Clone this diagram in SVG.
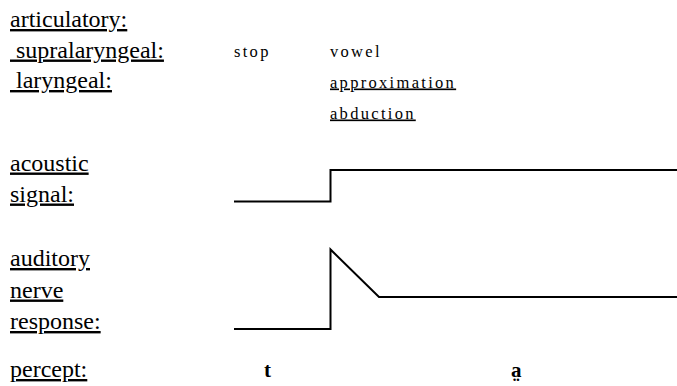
<svg xmlns="http://www.w3.org/2000/svg" width="677" height="386" viewBox="0 0 677 386">
  <style>
    text { font-family: 'Liberation Serif', 'DejaVu Serif', Times, serif; fill: #000; white-space: pre; }
    .lbl { font-size: 24px; text-decoration: underline; }
    .val { font-size: 16.5px; letter-spacing: 2.3px; }
    .u { text-decoration: underline; }
    .seg { font-size: 21px; font-weight: bold; }
    .trace { fill: none; stroke: #000; stroke-width: 2; stroke-linejoin: miter; }
  </style>
  <rect width="677" height="386" fill="#fff"/>

  <!-- articulatory gestures -->
  <g id="articulatory" font-family="Liberation Serif, serif">
    <text class="lbl" x="10" y="27">articulatory:</text>
    <text class="lbl" x="10" y="57.5"> supralaryngeal:</text>
    <text class="lbl" x="10" y="88"> laryngeal:</text>
    <text class="val" x="234" y="57">stop</text>
    <text class="val" x="330" y="57">vowel</text>
    <text class="val u" x="330" y="87.5">approximation</text>
    <text class="val u" x="330" y="118.5">abduction</text>
  </g>

  <!-- acoustic signal -->
  <g id="acoustic" font-family="Liberation Serif, serif">
    <text class="lbl" x="10" y="170.5">acoustic</text>
    <text class="lbl" x="10" y="201.5">signal:</text>
  </g>

  <!-- auditory nerve response -->
  <g id="auditory" font-family="Liberation Serif, serif">
    <text class="lbl" x="10" y="266">auditory</text>
    <text class="lbl" x="10" y="297.5">nerve</text>
    <text class="lbl" x="10" y="329">response:</text>
  </g>

  <!-- percept -->
  <g id="percept" font-family="Liberation Serif, serif">
    <text class="lbl" x="10" y="377">percept:</text>
    <text class="seg" x="264" y="377">t</text>
    <text class="seg" x="511" y="377">a&#x324;</text>
  </g>

  <!-- traces -->
  <g id="traces">
    <path class="trace" d="M234 201.5 H330.5 V170 H677"/>
    <path class="trace" d="M234 329 H330.5 V249.5 L379 297 H677"/>
  </g>
</svg>
